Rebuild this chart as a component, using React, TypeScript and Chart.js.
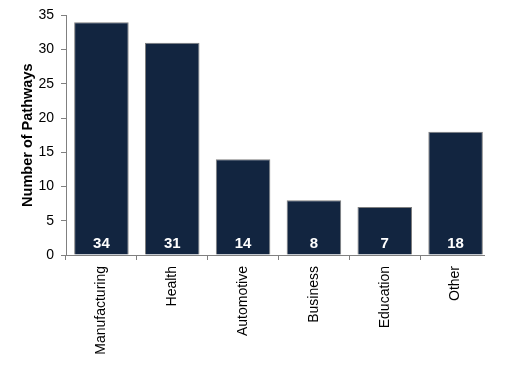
import React, { useEffect, useRef } from "react";
import { Chart, registerables } from "chart.js";

Chart.register(...registerables);

const categories = ["Manufacturing", "Health", "Automotive", "Business", "Education", "Other"];
const pathways = [34, 31, 14, 8, 7, 18];
const yTitle = "Number of Pathways";

const FONT = "'Liberation Sans', Arial, sans-serif";

const barLabels = {
  id: "barLabels",
  afterDatasetsDraw(chart: any) {
    const ctx = chart.ctx;
    const meta = chart.getDatasetMeta(0);
    const yBase = chart.scales.y.getPixelForValue(0);
    ctx.save();
    ctx.fillStyle = "#ffffff";
    ctx.font = `bold 15px ${FONT}`;
    ctx.textAlign = "center";
    ctx.textBaseline = "middle";
    meta.data.forEach((el: any, i: number) => {
      ctx.fillText(String(pathways[i]), el.x, yBase - 11);
    });
    ctx.restore();
  },
};

const xAxisLine = {
  id: "xAxisLine",
  afterDatasetsDraw(chart: any) {
    const { ctx, chartArea } = chart;
    ctx.save();
    ctx.strokeStyle = "#808080";
    ctx.lineWidth = 1;
    ctx.beginPath();
    ctx.moveTo(chartArea.left, Math.round(chartArea.bottom) + 0.5);
    ctx.lineTo(chartArea.right - 6, Math.round(chartArea.bottom) + 0.5);
    ctx.stroke();
    ctx.restore();
  },
};

export default function App() {
  const ref = useRef<HTMLCanvasElement>(null);
  useEffect(() => {
    if (!ref.current) return;
    const chart = new Chart(ref.current, {
      type: "bar",
      data: {
        labels: categories,
        datasets: [
          {
            data: pathways,
            backgroundColor: "#122540",
            borderColor: "#7f7f7f",
            borderWidth: 1,
            categoryPercentage: 0.77,
            barPercentage: 1,
          },
        ],
      },
      options: {
        responsive: false,
        animation: false,
        layout: { padding: { top: 15, right: 22, left: 0, bottom: 0 } },
        plugins: { legend: { display: false }, tooltip: { enabled: false } },
        scales: {
          x: {
            border: { display: false },
            grid: {
              display: true,
              drawOnChartArea: false,
              drawTicks: true,
              tickLength: 5,
              offset: true,
              color: (c: any) => (c.type !== "tick" ? "rgba(0,0,0,0)" : "#808080"),
            },
            ticks: {
              minRotation: 90,
              maxRotation: 90,
              color: "#000",
              font: { family: FONT, size: 14 },
              padding: 6,
            },
            afterFit(scale: any) {
              scale.height = 113;
            },
          },
          y: {
            min: 0,
            max: 35,
            border: { color: "#808080", width: 1 },
            grid: { display: true, drawOnChartArea: false, drawTicks: true, tickLength: 5, color: "#808080" },
            ticks: {
              stepSize: 5,
              color: "#000",
              font: { family: FONT, size: 14 },
              padding: 7,
            },
            title: {
              display: true,
              text: yTitle,
              color: "#000",
              font: { family: FONT, size: 14.5, weight: "bold" },
              padding: { top: 19, bottom: 0 },
            },
            afterFit(scale: any) {
              scale.width = 66;
            },
          },
        },
      },
      plugins: [barLabels, xAxisLine],
    });
    return () => chart.destroy();
  }, []);
  return (
    <div style={{ position: "fixed", left: 0, top: 0, width: 513, height: 368, background: "#fff" }}>
      <canvas ref={ref} width={513} height={368} style={{ display: "block" }} />
    </div>
  );
}
